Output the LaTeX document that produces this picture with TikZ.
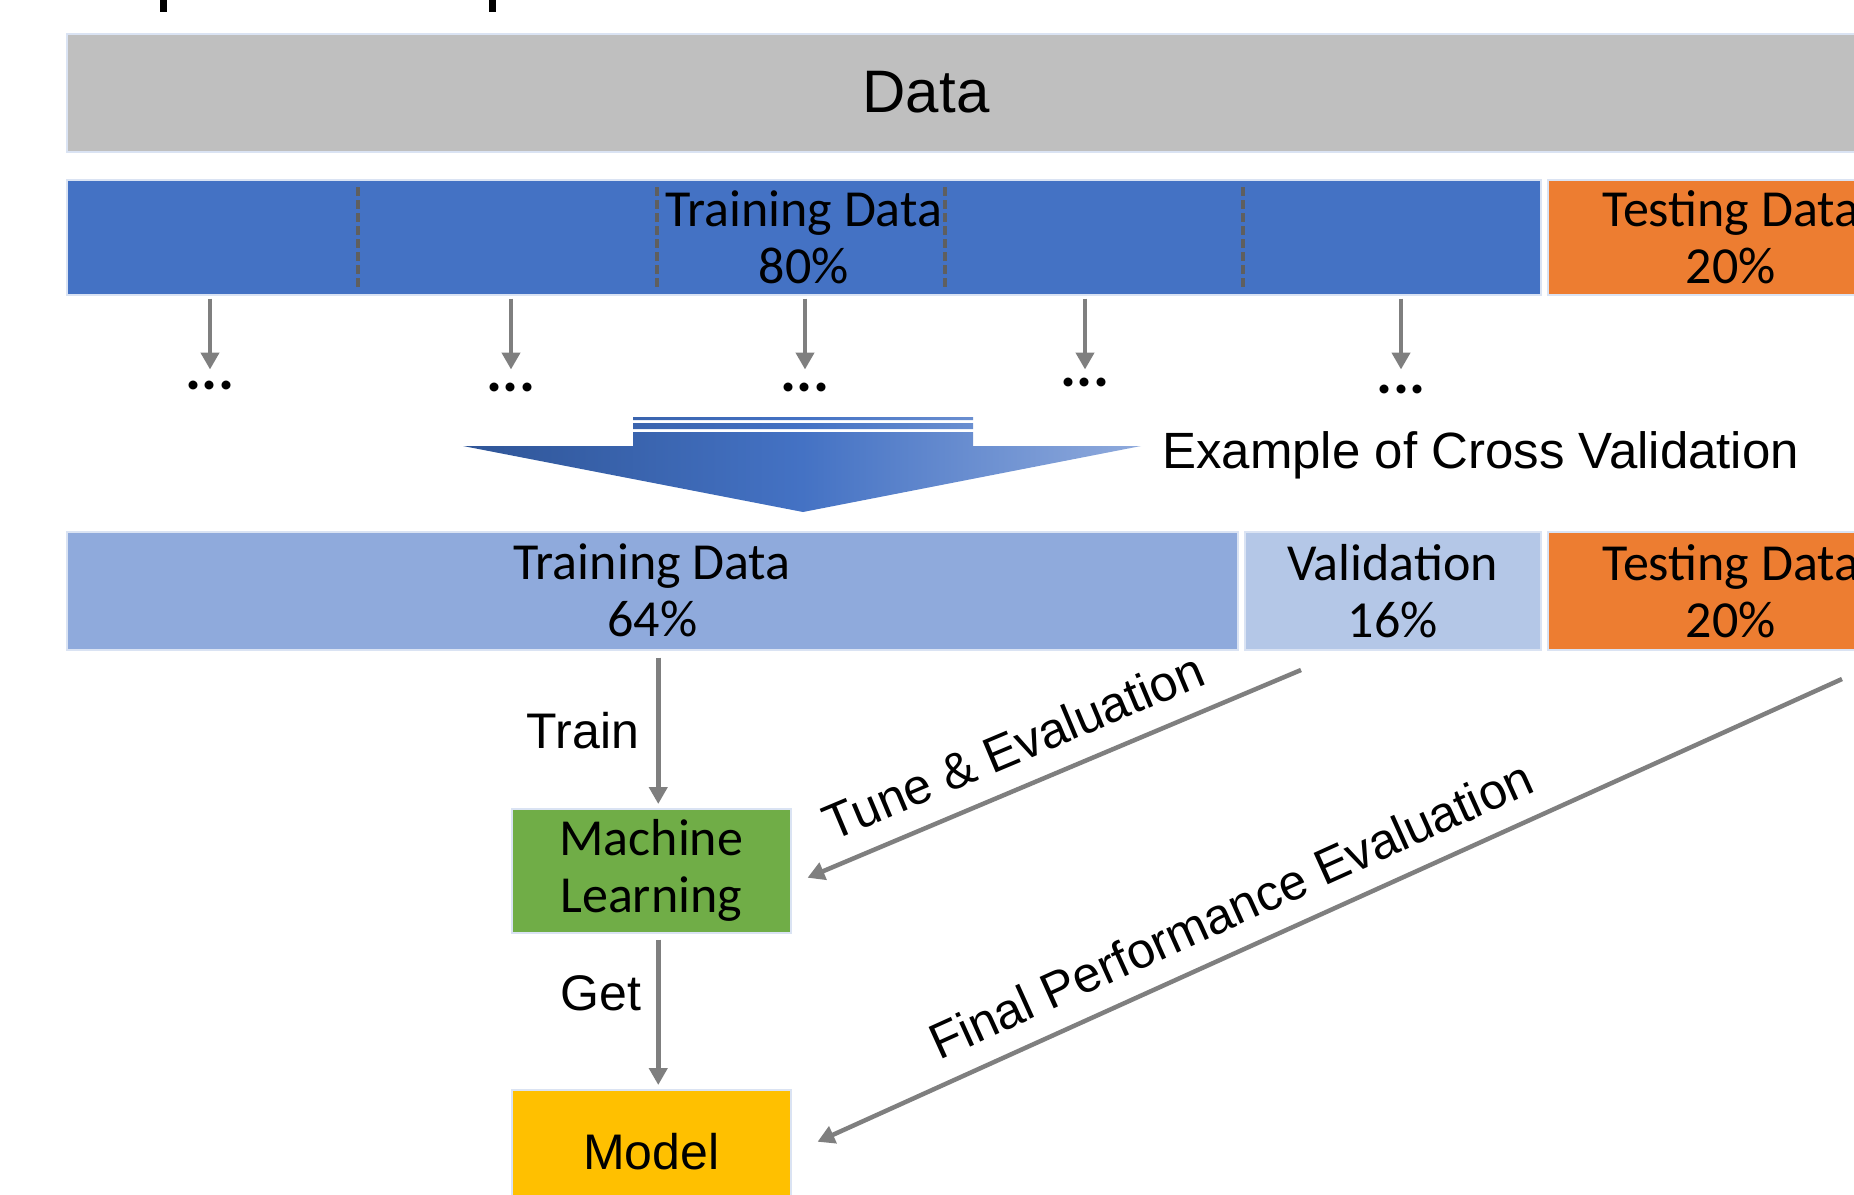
\documentclass[tikz,border=0pt]{standalone}
\usepackage{fontspec}
\setmainfont{Liberation Sans}
\newfontfamily\calib{Carlito}
\usepackage{tikz}
\usetikzlibrary{positioning,arrows.meta}
\definecolor{datagray}{HTML}{BFBFBF}
\definecolor{trainblue}{HTML}{4472C4}
\definecolor{trainlight}{HTML}{8FAADC}
\definecolor{validlight}{HTML}{B4C7E7}
\definecolor{testorange}{HTML}{ED7D31}
\definecolor{mlgreen}{HTML}{70AD47}
\definecolor{modelyellow}{HTML}{FFC000}
\definecolor{flowgray}{HTML}{7F7F7F}
\definecolor{cutgray}{HTML}{5F5F5F}
\definecolor{rim}{HTML}{DAE3F3}
\definecolor{arrowdark}{HTML}{2F5597}
\newcommand{\datafont}{\fontsize{60}{72}\selectfont}
\newcommand{\labfont}{\fontsize{50}{57}\selectfont}
\newcommand{\boxfont}{\calib\fontsize{52}{57}\selectfont}
\tikzset{
  bar/.style={rectangle, draw=rim, line width=1.5pt, anchor=north west, inner sep=0pt, align=center, font=\boxfont},
  flow/.style={draw=flowgray, line width=4.5pt, -{Triangle[length=17pt,width=18pt]}},
  cut/.style={draw=cutgray, line width=4pt, dash pattern=on 9pt off 4pt},
  lab/.style={inner sep=0pt, font=\labfont},
  dots/.style={inner sep=0pt, font=\calib\bfseries\fontsize{60}{60}\selectfont}
}

\begin{document}
\begin{tikzpicture}[x=1pt, y=-1pt]
\useasboundingbox (0,0) rectangle (1854,1194);

% bits of the cut title
\fill (160,0) rectangle (167,12);
\fill (489,0) rectangle (496,12);

\node[bar, fill=datagray, minimum width=1850pt, minimum height=118pt] (D) at (66,33) {};
\node[lab, font=\datafont] (Dtxt) at (926,92) {Data};

\node[bar, fill=trainblue, minimum width=1474pt, minimum height=115pt] (T80) at (66,179) {Training Data\\80\%};
\node[bar, fill=testorange, minimum width=366pt, minimum height=115pt] (S80) at (1547,179) {Testing Data\\20\%};

\foreach \x in {358,657,945,1243}
  \draw[cut] (\x,187) -- (\x,290);

\foreach \x/\y [count=\i] in {210/385,511/387,805/387,1085/382,1401/389} {
  \node[dots] (d\i) at (\x,\y) {...};
  \draw[flow] ([yshift=-3pt]T80.south -| d\i) -- ++(0,71);
}

% big arrow
\shade[left color=arrowdark, right color=trainlight, middle color=trainblue]
  (633,417) rectangle (973,420)
  (633,423) rectangle (973,429)
  (633,432) -- (973,432) -- (973,446) -- (1141,446) -- (803,512) -- (463,446) -- (633,446) -- cycle;
\node[lab, anchor=west, font=\fontsize{51}{57}\selectfont] (CV) at (1162,455) {Example of Cross Validation};

\node[bar, fill=trainlight, minimum width=1171pt, minimum height=118pt] (T64) at (66,531) {Training Data\\64\%};
\node[bar, fill=validlight, minimum width=296pt, minimum height=118pt] (V16) at (1244,531) {Validation\\16\%};
\node[bar, fill=testorange, minimum width=366pt, minimum height=118pt] (S20) at (1547,531) {Testing Data\\20\%};

\node[bar, fill=mlgreen, minimum width=279pt, minimum height=124pt] (ML) at (511,808) {Machine\\Learning};
\node[bar, fill=modelyellow, minimum width=279pt, minimum height=124pt, font=\labfont] (Mo) at (511,1089) {Model};

\draw[flow] ([xshift=7pt,yshift=-7pt]T64.south -| ML) -- node[lab, left=17pt] {Train} ([xshift=7pt,yshift=4pt]ML.north);
\draw[flow] ([xshift=7pt,yshift=-6pt]ML.south) -- node[lab, pos=0.37, left=15pt] {Get} ([xshift=7pt,yshift=4pt]Mo.north);

\coordinate (tuneS) at (1301,670);
\draw[flow] (tuneS) -- node[lab, pos=0.55, sloped, above=21pt] {Tune \& Evaluation} ([xshift=16pt,yshift=-7pt]ML.east);
\coordinate (finS) at (1842,679);
\draw[flow] (finS) -- node[lab, pos=0.58, sloped, above=21pt] {Final Performance Evaluation} ([xshift=26pt,yshift=10pt]Mo.east);

\end{tikzpicture}
\end{document}
